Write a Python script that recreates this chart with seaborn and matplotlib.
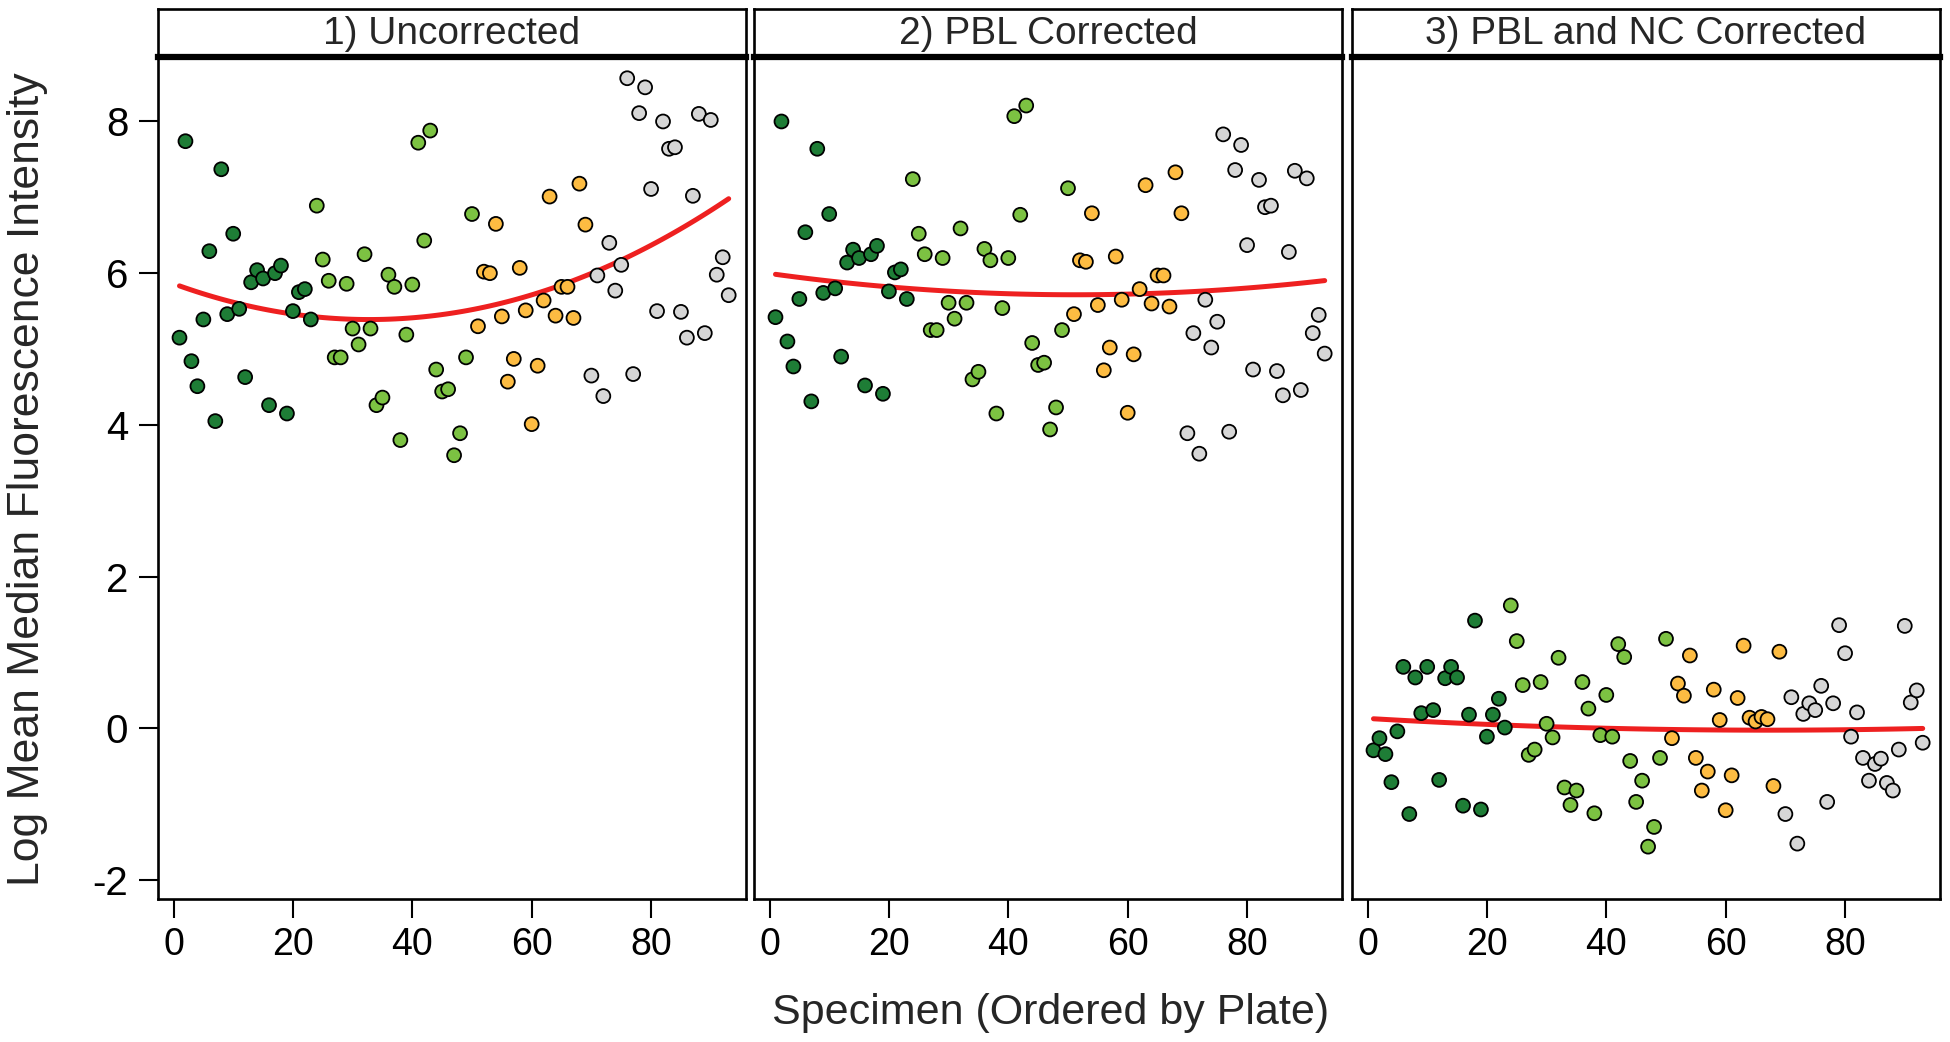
import numpy as np
import pandas as pd
import matplotlib
matplotlib.use("Agg")
import matplotlib.pyplot as plt
import seaborn as sns
from matplotlib import font_manager

# ---- data (specimens 1..93, ordered by plate) ----
plates = ["Plate 1", "Plate 2", "Plate 3", "Plate 4"]
plate_sizes = [23, 27, 19, 24]
plate_colors = ["#1e7d36", "#7cc242", "#fdbc42", "#d6d6d6"]

panel_titles = ["1) Uncorrected", "2) PBL Corrected", "3) PBL and NC Corrected"]

uncorrected = [
    5.15, 7.74, 4.84, 4.51, 5.39, 6.29, 4.05, 7.37, 5.46, 6.52, 5.53, 4.63,
    5.88, 6.04, 5.93, 4.26, 6.00, 6.10, 4.15, 5.50, 5.75, 5.79, 5.39,
    6.89, 6.18, 5.90, 4.89, 4.89, 5.86, 5.27, 5.06, 6.25, 5.27, 4.26, 4.36,
    5.98, 5.82, 3.80, 5.19, 5.85, 7.72, 6.43, 7.88, 4.73, 4.44, 4.47, 3.60,
    3.89, 4.89, 6.78,
    5.30, 6.02, 6.00, 6.65, 5.43, 4.57, 4.87, 6.07, 5.51, 4.01, 4.78, 5.64,
    7.01, 5.44, 5.82, 5.82, 5.41, 7.18, 6.64,
    4.65, 5.97, 4.38, 6.40, 5.77, 6.11, 8.57, 4.67, 8.11, 8.45, 7.11, 5.50,
    8.00, 7.64, 7.66, 5.49, 5.15, 7.02, 8.10, 5.21, 8.02, 5.98, 6.21, 5.71,
]

pbl_corrected = [
    5.42, 8.00, 5.10, 4.77, 5.66, 6.54, 4.31, 7.64, 5.74, 6.78, 5.80, 4.90,
    6.14, 6.31, 6.20, 4.52, 6.25, 6.36, 4.41, 5.76, 6.01, 6.05, 5.66,
    7.24, 6.52, 6.25, 5.25, 5.25, 6.20, 5.61, 5.40, 6.59, 5.61, 4.60, 4.70,
    6.32, 6.17, 4.15, 5.54, 6.20, 8.07, 6.77, 8.21, 5.08, 4.79, 4.82, 3.94,
    4.23, 5.25, 7.12,
    5.46, 6.17, 6.15, 6.79, 5.58, 4.72, 5.02, 6.22, 5.65, 4.16, 4.93, 5.79,
    7.16, 5.60, 5.97, 5.97, 5.56, 7.33, 6.79,
    3.89, 5.21, 3.62, 5.65, 5.02, 5.36, 7.83, 3.91, 7.36, 7.69, 6.37, 4.73,
    7.23, 6.87, 6.89, 4.71, 4.39, 6.28, 7.35, 4.46, 7.25, 5.21, 5.45, 4.94,
]

pbl_nc_corrected = [
    -0.29, -0.13, -0.34, -0.71, -0.04, 0.81, -1.13, 0.67, 0.20, 0.81, 0.24,
    -0.68, 0.66, 0.81, 0.67, -1.02, 0.18, 1.42, -1.07, -0.11, 0.18, 0.39, 0.01,
    1.62, 1.15, 0.57, -0.35, -0.28, 0.61, 0.06, -0.12, 0.93, -0.78, -1.01,
    -0.82, 0.61, 0.26, -1.12, -0.09, 0.44, -0.11, 1.11, 0.94, -0.43, -0.97,
    -0.69, -1.56, -1.30, -0.39, 1.18,
    -0.13, 0.59, 0.43, 0.96, -0.39, -0.82, -0.57, 0.51, 0.11, -1.08, -0.62,
    0.40, 1.09, 0.14, 0.09, 0.15, 0.12, -0.76, 1.01,
    -1.13, 0.41, -1.52, 0.19, 0.33, 0.24, 0.56, -0.97, 0.33, 1.36, 0.99,
    -0.11, 0.21, -0.39, -0.69, -0.47, -0.40, -0.72, -0.82, -0.28, 1.35, 0.34,
    0.50, -0.19,
]

specimen = np.arange(1, 94)
plate = np.repeat(plates, plate_sizes)

frames = []
for title, vals in zip(panel_titles, [uncorrected, pbl_corrected, pbl_nc_corrected]):
    frames.append(pd.DataFrame({"specimen": specimen, "value": vals,
                                "plate": plate, "panel": title}))
df = pd.concat(frames, ignore_index=True)

# ---- style ----
sns.set_style("white")
names = {f.name for f in font_manager.fontManager.ttflist}
narrow = "Liberation Sans Narrow" if "Liberation Sans Narrow" in names else "Liberation Sans"
plt.rcParams["font.family"] = [narrow, "DejaVu Sans"]
plt.rcParams["axes.unicode_minus"] = False

W, H = 1950, 1042
fig = plt.figure(figsize=(W / 100, H / 100), dpi=100)

lefts = [158, 754, 1352]
pw = 588
bottom_px, top_px, strip_top_px = 899, 57, 9
palette = dict(zip(plates, plate_colors))

for i, (left, title) in enumerate(zip(lefts, panel_titles)):
    ax = fig.add_axes([left / W, 1 - bottom_px / H, pw / W, (bottom_px - top_px) / H])
    sub = df[df["panel"] == title]
    sns.scatterplot(data=sub, x="specimen", y="value", hue="plate", palette=palette,
                    s=100, edgecolor="black", linewidth=1.3, legend=False, ax=ax, zorder=3)
    sns.regplot(data=sub, x="specimen", y="value", order=2, ci=None, scatter=False,
                color="#ee2020", line_kws={"linewidth": 3.6, "zorder": 2}, ax=ax)
    ax.set_xlim(-2.6, 95.9)
    ax.set_ylim(-2.25, 8.85)
    ax.set_xticks([0, 20, 40, 60, 80])
    ax.set_xlabel("")
    ax.set_ylabel("")
    for sp in ax.spines.values():
        sp.set_linewidth(1.9)
        sp.set_color("black")
    ax.tick_params(axis="x", direction="out", length=13.5, width=1.5, labelsize=27,
                   pad=7, bottom=True, colors="black")
    if i == 0:
        ax.set_yticks([-2, 0, 2, 4, 6, 8])
        ax.tick_params(axis="y", direction="out", length=13.5, width=1.5, labelsize=29,
                       pad=8, left=True, colors="black")
    else:
        ax.set_yticks([])

    sax = fig.add_axes([left / W, 1 - top_px / H, pw / W, (top_px - strip_top_px) / H])
    sax.set_xticks([])
    sax.set_yticks([])
    for sp in sax.spines.values():
        sp.set_linewidth(1.9)
        sp.set_color("black")
    sax.spines["bottom"].set_linewidth(4.5)
    sax.text(0.5, 0.47, title, ha="center", va="center", fontsize=28,
             transform=sax.transAxes)

fig.text(0.539, 0.028, "Specimen (Ordered by Plate)", ha="center", va="center", fontsize=31)
fig.text(0.014, 0.54, "Log Mean Median Fluorescence Intensity", ha="center",
         va="center", rotation=90, fontsize=32)

fig.savefig("out.png", dpi=100, facecolor="white")
